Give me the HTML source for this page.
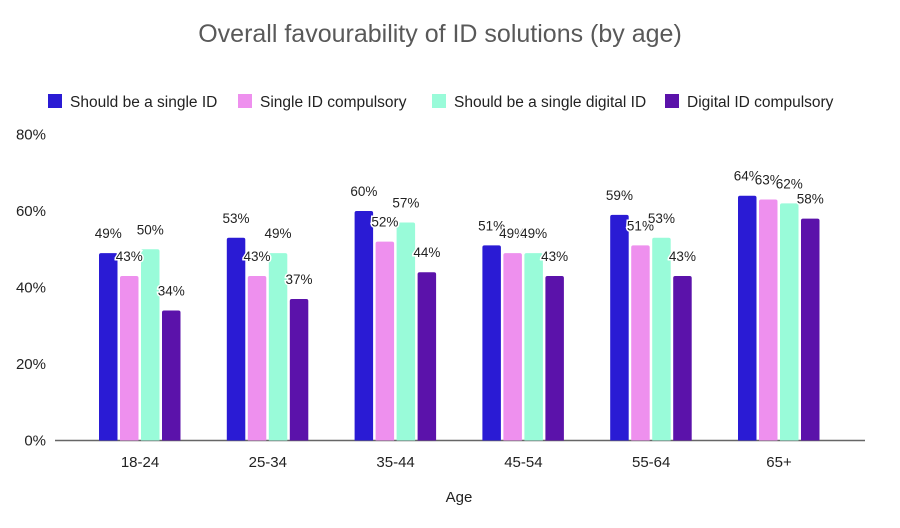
<!DOCTYPE html>
<html><head><meta charset="utf-8"><style>
body{margin:0;background:#fff;font-family:"Liberation Sans",sans-serif}
svg text{font-family:"Liberation Sans",sans-serif}
</style></head><body>
<svg width="900" height="523" id="c">
<text x="440" y="42" text-anchor="middle" font-size="25" fill="#595959">Overall favourability of ID solutions (by age)</text>
<text x="459" y="502" text-anchor="middle" font-size="15" fill="#222">Age</text>
<g id="legend"></g><g id="axes"></g><g id="bars"></g><g id="labels"></g>
</svg>
<script>
const categories=["18-24","25-34","35-44","45-54","55-64","65+"];
const seriesNames=["Should be a single ID","Single ID compulsory","Should be a single digital ID","Digital ID compulsory"];
const singleId=[49,53,60,51,59,64];
const singleIdCompulsory=[43,43,52,49,51,63];
const singleDigitalId=[50,49,57,49,53,62];
const digitalIdCompulsory=[34,37,44,43,43,58];
const yTicks=[0,20,40,60,80];
const series=[singleId,singleIdCompulsory,singleDigitalId,digitalIdCompulsory];
const colors=["#2a1bd4","#ee90ee","#99fbd9","#5b12aa"];
const NS="http://www.w3.org/2000/svg";
function mk(t,a,p){const e=document.createElementNS(NS,t);for(const k in a)e.setAttribute(k,a[k]);p.appendChild(e);return e;}
const y=v=>440.5-v*3.825;
const xc=i=>140+i*127.8;
const axes=document.getElementById('axes');
yTicks.forEach(t=>{const e=mk('text',{x:46,y:y(t)+5,'text-anchor':'end','font-size':15,fill:'#222'},axes);e.textContent=t+'%';

});
const al=mk('line',{x1:55,x2:865,y1:440.5,y2:440.5,stroke:'#666','stroke-width':1.5},axes);


categories.forEach((c,i)=>{const e=mk('text',{x:xc(i),y:467,'text-anchor':'middle','font-size':15,fill:'#222'},axes);e.textContent=c;

});
const bars=document.getElementById('bars'),labels=document.getElementById('labels');
series.forEach((s,j)=>s.forEach((v,i)=>{
const x=xc(i)-41+j*21;
const r=mk('path',{d:`M${x},440.5V${y(v)+2}q0,-2 2,-2h14.5q2,0 2,2V440.5Z`,fill:colors[j]},bars);


const t=mk('text',{x:x+9.25,y:y(v)-15,'text-anchor':'middle','font-size':13.5,fill:'#222',stroke:'#fff','stroke-width':3,'paint-order':'stroke'},labels);
t.textContent=v+'%';


}));
const lg=document.getElementById('legend');
const lx=[48,238,432,665];
seriesNames.forEach((n,j)=>{const g=mk('g',{},lg);


mk('rect',{x:lx[j],y:94,width:14,height:14,fill:colors[j]},g);
const t=mk('text',{x:lx[j]+22,y:107,'font-size':15.5,fill:'#222'},g);t.textContent=n;});
</script>
</body></html>
